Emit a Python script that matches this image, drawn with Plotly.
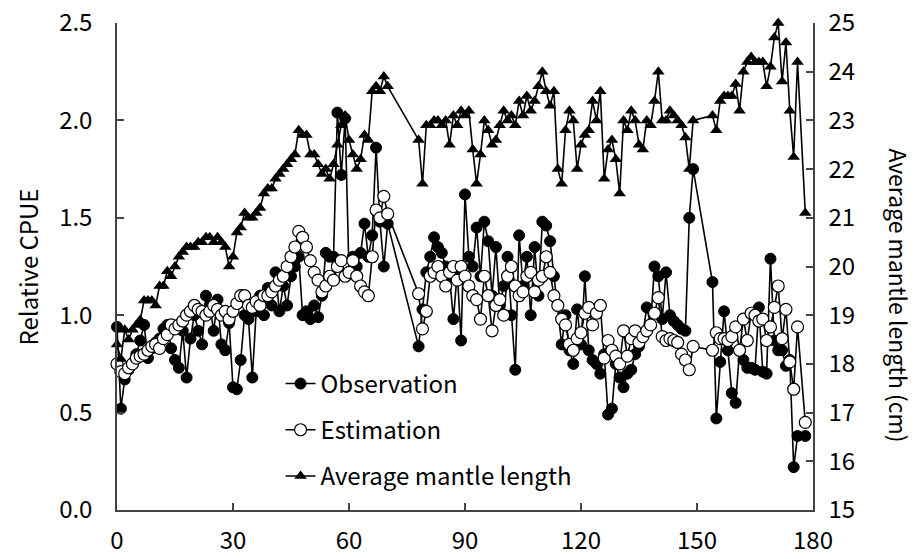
import plotly.graph_objects as go

# x positions (days); gaps at 71-77 and 150-153
x_vals = list(range(0, 71)) + list(range(78, 150)) + list(range(154, 177)) + [178]

observation = [
    0.94, 0.52, 0.67, 0.72, 0.75, 0.80, 0.87, 0.95, 0.78, 0.83,
    0.86, 0.88, 0.93, 0.95, 0.83, 0.77, 0.73, 0.92, 0.68, 0.88,
    1.00, 0.92, 0.85, 1.10, 1.05, 0.92, 1.08, 0.85, 0.82, 0.96,
    0.63, 0.62, 0.77, 1.00, 0.98, 0.68, 1.02, 1.10, 1.00, 1.14,
    1.05, 1.22, 1.02, 1.15, 1.05, 1.20, 1.25, 1.30, 1.00, 1.02,
    0.98, 1.05, 0.99, 1.10, 1.32, 1.30, 1.30, 2.04, 1.72, 2.01,
    1.22, 1.30, 1.25, 1.32, 1.47, 1.30, 1.41, 1.86, 1.48, 1.25,
    1.47,
    0.84, 1.03, 1.22, 1.30, 1.40, 1.35, 1.32, 1.25, 1.20, 0.98,
    1.22, 0.87, 1.62, 1.30, 1.25, 1.45, 1.20, 1.48, 1.38, 1.10,
    1.35, 1.05, 1.15, 1.30, 1.00, 0.72, 1.41, 1.15, 1.30, 1.00,
    1.35, 1.10, 1.48, 1.46, 1.38, 1.20, 1.05, 0.85, 1.00, 0.82,
    0.75, 1.03, 0.85, 1.20, 0.82, 0.77, 0.75, 0.70, 0.80, 0.49,
    0.52, 0.75, 0.68, 0.63, 0.70, 0.72, 0.80, 0.84, 0.90, 1.04,
    0.95, 1.25, 1.20, 0.98, 1.22, 1.00, 0.97, 0.95, 0.93, 0.92,
    1.50, 1.75,
    1.17, 0.47, 0.76, 1.02, 0.82, 0.60, 0.55, 0.82, 0.77, 0.73,
    0.73, 0.72, 1.04, 0.71, 0.70, 1.29, 0.87, 0.82, 0.82, 0.74,
    0.77, 0.22, 0.38, 0.38,
]

estimation = [
    0.75, 0.71, 0.70, 0.73, 0.75, 0.78, 0.79, 0.80, 0.82, 0.84,
    0.85, 0.83, 0.88, 0.90, 0.95, 0.93, 0.95, 0.97, 1.00, 1.02,
    1.05, 1.03, 1.02, 1.00, 1.02, 1.05, 1.03, 1.00, 1.02, 0.98,
    1.02, 1.06, 1.10, 1.10, 1.05, 1.04, 1.07, 1.05, 1.10, 1.10,
    1.12, 1.15, 1.18, 1.20, 1.25, 1.30, 1.35, 1.43, 1.40, 1.35,
    1.28, 1.22, 1.18, 1.12, 1.15, 1.20, 1.18, 1.25, 1.28, 1.20,
    1.22, 1.28, 1.20, 1.15, 1.12, 1.10, 1.30, 1.54, 1.50, 1.61,
    1.52,
    1.11, 0.93, 1.02, 1.20, 1.22, 1.25, 1.20, 1.15, 1.22, 1.25,
    1.18, 1.25, 1.20, 1.15, 1.10, 1.08, 0.98, 1.20, 1.10, 0.92,
    1.05, 1.08, 1.00, 1.20, 1.25, 1.15, 1.10, 1.12, 1.20, 1.22,
    1.12, 1.18, 1.20, 1.30, 1.22, 1.10, 1.05, 0.98, 0.95, 0.85,
    0.82, 0.88, 0.91, 1.01, 1.04, 0.95, 1.01, 1.05, 0.78, 0.87,
    0.82, 0.79, 0.75, 0.92, 0.79, 0.88, 0.92, 0.86, 0.89, 0.92,
    0.95, 1.01, 1.09, 0.89, 0.87, 0.88, 0.87, 0.86, 0.80, 0.77,
    0.72, 0.84,
    0.82, 0.91, 0.88, 0.88, 0.87, 0.89, 0.94, 0.82, 0.98, 0.87,
    1.01, 1.00, 0.97, 0.98, 0.87, 0.94, 1.04, 1.15, 0.88, 1.03,
    0.76, 0.62, 0.94, 0.45,
]

mantle_length = [
    18.4, 18.1, 18.7, 18.5, 18.7, 18.8, 18.9, 19.3, 19.3, 19.3,
    19.2, 19.6, 19.6, 19.9, 19.8, 20.0, 20.2, 20.3, 20.4, 20.4,
    20.4, 20.5, 20.5, 20.6, 20.6, 20.5, 20.6, 20.5, 20.4, 20.0,
    20.2, 20.7, 20.8, 21.1, 21.0, 21.0, 21.1, 21.2, 21.5, 21.6,
    21.6, 21.8, 21.9, 22.0, 22.1, 22.2, 22.3, 22.8, 22.7, 22.7,
    22.3, 22.3, 22.1, 21.9, 22.0, 21.8, 22.1, 22.5, 22.9, 23.1,
    22.6, 22.3, 22.0, 22.2, 22.7, 22.6, 23.6, 23.7, 23.6, 23.9,
    23.7,
    22.6, 21.7, 22.9, 22.9, 23.0, 23.0, 22.9, 23.0, 22.5, 23.1,
    22.9, 23.2, 23.1, 23.2, 22.4, 21.7, 22.3, 23.0, 22.8, 22.5,
    22.6, 22.9, 23.2, 23.0, 23.1, 22.9, 23.4, 23.1, 23.5, 23.2,
    23.4, 23.7, 24.0, 23.6, 23.3, 23.6, 22.0, 21.7, 22.8, 23.2,
    23.0, 22.0, 22.5, 22.7, 22.8, 23.4, 23.0, 23.6, 21.8, 22.4,
    22.6, 22.2, 21.5, 23.0, 22.8, 23.2, 23.0, 22.5, 22.4, 23.0,
    22.9, 23.4, 24.0, 23.0, 23.0, 23.2, 23.1, 23.0, 22.9, 22.65,
    22.0, 23.0,
    23.1, 22.8, 23.4, 23.5, 23.5, 23.5, 23.75, 23.2, 24.0, 24.2,
    24.3, 24.2, 24.2, 24.2, 23.7, 24.1, 24.7, 25.0, 23.8, 24.6,
    23.2, 22.25, 24.2, 21.1,
]

x_ticks = [0, 30, 60, 90, 120, 150, 180]
y_left_ticks = [0.0, 0.5, 1.0, 1.5, 2.0, 2.5]
y_right_ticks = [15, 16, 17, 18, 19, 20, 21, 22, 23, 24, 25]

FONT = "Noto Sans CJK JP"

fig = go.Figure()
fig.add_trace(go.Scatter(
    x=x_vals, y=observation, name="Observation", mode="lines+markers",
    line=dict(color="black", width=1.6),
    marker=dict(symbol="circle", size=11, color="black", line=dict(color="black", width=1)),
    legendgroup="a", cliponaxis=False,
))
fig.add_trace(go.Scatter(
    x=x_vals, y=estimation, name="Estimation", mode="lines+markers",
    line=dict(color="black", width=1.6),
    marker=dict(symbol="circle", size=12, color="white", line=dict(color="black", width=1.2)),
    legendgroup="b", cliponaxis=False,
))
fig.add_trace(go.Scatter(
    x=x_vals, y=mantle_length, name="Average mantle length", mode="lines+markers",
    line=dict(color="black", width=1.6),
    marker=dict(symbol="triangle-up", size=11, color="black"),
    legendgroup="c", yaxis="y2", cliponaxis=False,
))

axis_common = dict(
    showgrid=False, zeroline=False, showline=True, linecolor="#444", linewidth=1.5,
    ticks="inside", ticklen=7, tickcolor="#444", tickwidth=1.5, automargin=False,
    ticklabeloverflow="allow",
    tickfont=dict(family=FONT, size=24, color="black"),
)

# page body adds an 8 px offset, so the figure is 8 px smaller and margins shifted
fig.update_layout(
    width=914, height=551,
    margin=dict(l=109, r=109, t=15, b=49),
    paper_bgcolor="white", plot_bgcolor="white",
    font=dict(family=FONT, size=20, color="black"),
    xaxis=dict(range=[0, 180], tickvals=x_ticks, ticklabelstandoff=8, **axis_common),
    yaxis=dict(range=[0, 2.5], tickvals=y_left_ticks, tickformat=".1f",
               ticklabelstandoff=18, **axis_common),
    yaxis2=dict(range=[15, 25], tickvals=y_right_ticks, overlaying="y", side="right",
                ticklabelstandoff=9, **axis_common),
    showlegend=True,
    legend=dict(x=0.235, y=0.305, xanchor="left", yanchor="top",
                bgcolor="rgba(0,0,0,0)", font=dict(family=FONT, size=24),
                tracegroupgap=12, itemwidth=30),
    annotations=[
        dict(text="Relative CPUE", xref="paper", yref="paper", x=-0.128, y=0.5,
             xanchor="center", yanchor="middle", textangle=-90, showarrow=False,
             font=dict(family=FONT, size=24)),
        dict(text="Average mantle length (cm)", xref="paper", yref="paper", x=1.124, y=0.44,
             xanchor="center", yanchor="middle", textangle=90, showarrow=False,
             font=dict(family=FONT, size=23)),
    ],
)

fig.write_html("out.html")
